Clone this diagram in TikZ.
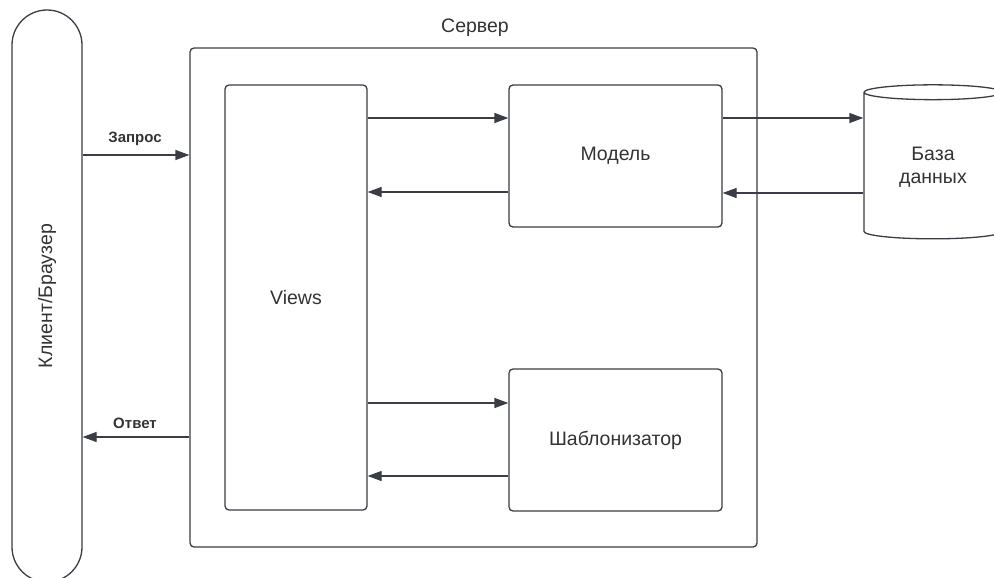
\documentclass[tikz,border=0pt]{standalone}
\usepackage{fontspec}
\setmainfont{Liberation Sans}
\usetikzlibrary{arrows.meta,shapes.geometric}
\definecolor{linegray}{HTML}{3A3D45}
\definecolor{textgray}{HTML}{333333}
\tikzset{
  box/.style={draw=linegray, line width=1.3pt, rounded corners=4pt, fill=white,
    text=textgray, font=\fontsize{19.5}{23}\selectfont, align=center},
  arr/.style={draw=linegray, line width=1.3pt, -{Triangle[length=14pt,width=10pt]}},
  lbl/.style={text=textgray, font=\bfseries\fontsize{15}{17}\selectfont},
  title/.style={text=textgray, font=\fontsize{19.5}{23}\selectfont}
}
\begin{document}
\begin{tikzpicture}[x=1pt,y=-1pt]
\useasboundingbox (0,0) rectangle (994,578);
% client column and server frame
\node[box, rotate=90, rounded corners=35pt, minimum width=572pt, minimum height=70pt] (client) at (47,296) {Клиент/Браузер};
\node[box, minimum width=567pt, minimum height=499pt] (server) at (473.5,297.5) {};
\node[title] (srvlabel) at (475,28) {Сервер};
% inner blocks
\node[box, minimum width=142pt, minimum height=425pt] (views) at (296,297.5) {Views};
\node[box, minimum width=213pt, minimum height=142pt] (model) at (615.5,156) {Модель};
\node[box, minimum width=213pt, minimum height=142pt] (tmpl) at (615.5,440) {Шаблонизатор};
\node[box, sharp corners, cylinder, shape border rotate=90, aspect=0.2, minimum width=138pt, minimum height=154pt] (db) at (933,167) {База\\данных};
% request / response
\draw[arr] (client.south |- 0,155) -- (server.west |- 0,155);
\node[lbl] (req) at (135,139) {Запрос};
\draw[arr] (server.west |- 0,437) -- (client.south |- 0,437);
\node[lbl] (resp) at (135,423) {Ответ};
% views <-> model, views <-> templates
\draw[arr] (views.east |- 0,118) -- (model.west |- 0,118);
\draw[arr] (model.west |- 0,192) -- (views.east |- 0,192);
\draw[arr] (views.east |- 0,403) -- (tmpl.west |- 0,403);
\draw[arr] (tmpl.west |- 0,476) -- (views.east |- 0,476);
% model <-> database
\draw[arr] (model.east |- 0,118) -- (db.west |- 0,118);
\draw[arr] (db.west |- 0,193) -- (model.east |- 0,193);
\end{tikzpicture}
\end{document}
